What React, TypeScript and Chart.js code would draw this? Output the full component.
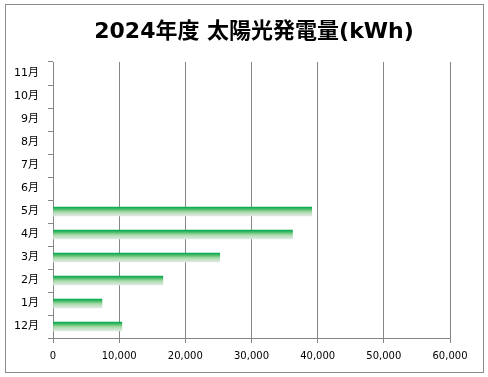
import React, { useEffect, useRef } from 'react';
import { Chart, registerables } from 'chart.js';

Chart.register(...registerables);

const chartTitle = '2024年度 太陽光発電量(kWh)';
const months = ['12月', '1月', '2月', '3月', '4月', '5月', '6月', '7月', '8月', '9月', '10月', '11月'];
const generation: (number | null)[] = [10400, 7400, 16600, 25200, 36200, 39100, null, null, null, null, null, null];
const xTicks = [0, 10000, 20000, 30000, 40000, 50000, 60000];

const GRID = '#868686';
const BAR_T = 9;

export default function App() {
  const ref = useRef<HTMLCanvasElement | null>(null);

  useEffect(() => {
    document.body.style.margin = '0';
    const canvas = ref.current;
    if (!canvas) return;

    const decor = {
      id: 'decor',
      afterDraw(chart: any) {
        const c = chart.ctx;
        c.save();
        c.strokeStyle = '#8c8c8c';
        c.lineWidth = 1;
        c.strokeRect(5.5, 4.5, 478, 368);
        c.fillStyle = '#000';
        c.font = 'bold 22px "DejaVu Sans", "Noto Sans CJK JP"';
        c.textAlign = 'center';
        c.textBaseline = 'middle';
        c.fillText(chartTitle, 254, 32);
        c.restore();
      },
    };

    const chart = new Chart(canvas, {
      type: 'bar',
      data: {
        labels: months,
        datasets: [
          {
            data: generation as any,
            barThickness: BAR_T,
            borderWidth: 0,
            backgroundColor: (ctx: any) => {
              const ch = ctx.chart;
              const ys = ch.scales && ch.scales.y;
              if (!ys || ctx.type !== 'data') return '#00b050';
              const cy = ys.getPixelForValue(ctx.dataIndex);
              if (!Number.isFinite(cy)) return '#00b050';
              const g = ch.ctx.createLinearGradient(0, cy - BAR_T / 2, 0, cy + BAR_T / 2);
              g.addColorStop(0, '#00a84f');
              g.addColorStop(0.25, '#4dbd6a');
              g.addColorStop(0.55, '#a9dba9');
              g.addColorStop(1, '#e2e8e8');
              return g;
            },
          },
        ],
      },
      options: {
        indexAxis: 'y',
        responsive: false,
        animation: false,
        devicePixelRatio: 1,
        layout: { padding: { top: 62, right: 38, left: 0, bottom: 0 } },
        plugins: { legend: { display: false }, title: { display: false }, tooltip: { enabled: false } },
        scales: {
          x: {
            min: 0,
            max: 60000,
            afterBuildTicks: (s: any) => {
              s.ticks = xTicks.map((v) => ({ value: v }));
            },
            afterFit: (s: any) => {
              s.height = 39;
            },
            grid: { color: GRID, tickLength: 5, drawTicks: true, lineWidth: 1 },
            border: { color: GRID, width: 1 },
            ticks: {
              color: '#000',
              padding: 7,
              maxRotation: 0,
              font: { family: '"DejaVu Sans", "Noto Sans CJK JP"', size: 10 },
              callback: (v: any) => Number(v).toLocaleString('en-US'),
            },
          },
          y: {
            reverse: true,
            afterFit: (s: any) => {
              s.width = 53;
            },
            grid: { drawOnChartArea: false, color: GRID, tickLength: 5, drawTicks: true },
            border: { color: GRID, width: 1 },
            ticks: {
              color: '#000',
              padding: 9,
              autoSkip: false,
              font: { family: '"DejaVu Sans", "Noto Sans CJK JP"', size: 11 },
            },
          },
        },
      },
      plugins: [decor],
    } as any);

    return () => chart.destroy();
  }, []);

  return (
    <div style={{ position: 'fixed', left: 0, top: 0, width: 488, height: 377, background: '#fff' }}>
      <canvas ref={ref} width={488} height={377} style={{ display: 'block' }} />
    </div>
  );
}
